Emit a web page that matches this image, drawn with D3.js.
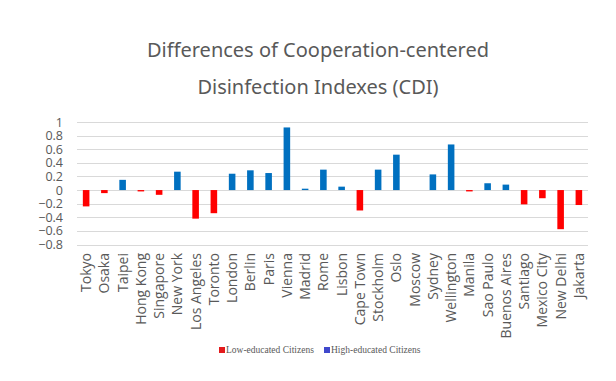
<!DOCTYPE html>
<html><head><meta charset="utf-8">
<script src="https://cdn.jsdelivr.net/npm/d3@7"></script>
<style>body{margin:0;background:#fff}svg{display:block}</style>
</head><body>
<svg id="c" width="616" height="381"></svg>
<script>
const categories = ["Tokyo","Osaka","Taipei","Hong Kong","Singapore","New York","Los Angeles","Toronto","London","Berlin","Paris","Vienna","Madrid","Rome","Lisbon","Cape Town","Stockholm","Oslo","Moscow","Sydney","Wellington","Manila","Sao Paulo","Buenos Aires","Santiago","Mexico City","New Delhi","Jakarta"];
const values = [-0.24,-0.045,0.15,-0.02,-0.07,0.27,-0.42,-0.34,0.24,0.29,0.25,0.92,0.02,0.30,0.05,-0.30,0.30,0.52,0,0.23,0.67,-0.02,0.10,0.08,-0.21,-0.12,-0.575,-0.22];
const yTicks = [1,0.8,0.6,0.4,0.2,0,-0.2,-0.4,-0.6,-0.8];
const seriesNames = ["Low-educated Citizens","High-educated Citizens"];
const seriesColors = ["#FF0000","#0070C0"];
const legendColors = ["#E31A1C","#3F48CC"];

const svg = d3.select("#c");
const x = d3.scaleBand().domain(categories).range([77, 588]).paddingInner(0.64).paddingOuter(0.32);
const y = d3.scaleLinear().domain([-0.8, 1]).range([244.5, 122]);

// title
const title = svg.append("g").attr("fill","#595959").attr("font-family","'Noto Sans', 'Open Sans', sans-serif").attr("font-size",20).attr("text-anchor","middle");
title.append("text").attr("x",318).attr("y",57).text("Differences of Cooperation-centered");
title.append("text").attr("x",318).attr("y",94).text("Disinfection Indexes (CDI)");

// gridlines
svg.append("g").selectAll("line").data(yTicks).join("line")
  .attr("x1",77).attr("x2",588).attr("y1",d=>Math.round(y(d))+0.5).attr("y2",d=>Math.round(y(d))+0.5)
  .attr("stroke","#d9d9d9").attr("stroke-width",1);

// y axis
const yAxis = d3.axisLeft(y).tickValues(yTicks).tickSize(0).tickPadding(0).tickFormat(d3.format("~g"));
const yg = svg.append("g").attr("transform","translate(63,0)").call(yAxis);
yg.select(".domain").remove();
yg.selectAll("text").attr("fill","#595959").attr("font-size",12.5).attr("font-family","'Open Sans', 'Noto Sans', sans-serif");

// bars
svg.append("g").selectAll("rect").data(values).join("rect")
  .attr("x",(d,i)=>x(categories[i]))
  .attr("width",x.bandwidth())
  .attr("y",d=>y(Math.max(0,d)))
  .attr("height",d=>Math.abs(y(d)-y(0)))
  .attr("fill",d=>d<0?seriesColors[0]:seriesColors[1]);

// x axis labels
const xAxis = d3.axisBottom(x).tickSize(0).tickPadding(0);
const xg = svg.append("g").attr("transform","translate(0,253)").call(xAxis);
xg.select(".domain").remove();
xg.selectAll("text").attr("fill","#595959").attr("font-size",14).attr("font-family","'Open Sans', 'Noto Sans', sans-serif")
  .attr("text-anchor","end").attr("dy","0.35em").attr("transform","rotate(-90)").attr("x",0).attr("y",0);

// legend
const lg = svg.append("g").attr("font-family","'Liberation Serif', 'DejaVu Serif', serif").attr("font-size",9.5).attr("fill","#595959");
const items = [{n:seriesNames[0],c:legendColors[0],x:219},{n:seriesNames[1],c:legendColors[1],x:324}];
items.forEach(it=>{
  lg.append("rect").attr("x",it.x).attr("y",347).attr("width",6).attr("height",6).attr("fill",it.c);
  lg.append("text").attr("x",it.x+7).attr("y",353).text(it.n);
});
</script>
</body></html>
